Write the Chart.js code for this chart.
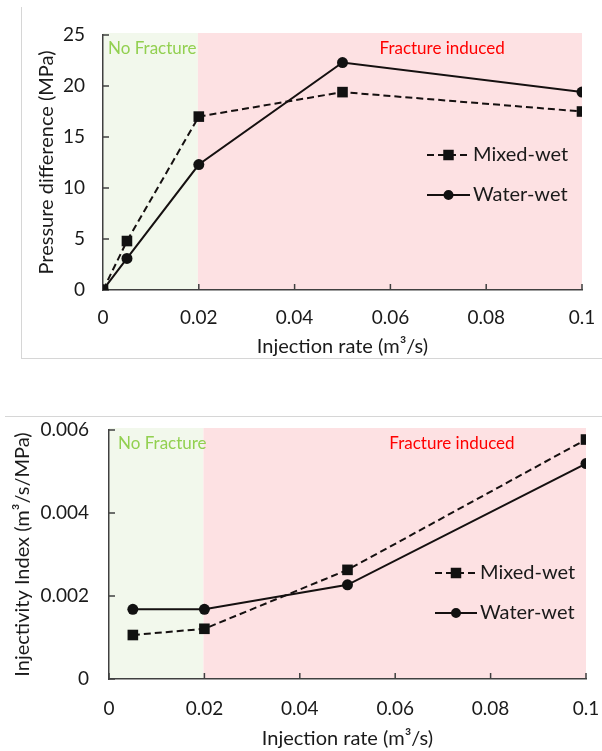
<!DOCTYPE html>
<html><head><meta charset="utf-8">
<script src="https://cdn.jsdelivr.net/npm/chart.js@4.4.1/dist/chart.umd.min.js"></script>
<style>
html,body{margin:0;padding:0;width:602px;height:751px;overflow:hidden;background:#fff;}
.wrap{position:absolute;left:0;}
.rule{position:absolute;background:#d6d6d6;}
</style></head><body>
<div class="rule" style="left:21px;top:7px;width:1px;height:352px"></div>
<div class="rule" style="left:21px;top:358px;width:581px;height:1px"></div>
<div class="rule" style="left:5px;top:416px;width:597px;height:1px"></div>
<div class="wrap" style="top:0;width:602px;height:360px"><canvas id="cTop" width="602" height="360"></canvas></div>
<div class="wrap" style="top:417px;width:602px;height:334px"><canvas id="cBot" width="602" height="334"></canvas></div>
<script>
// ---- data ----
const seriesNames = ['Mixed-wet', 'Water-wet'];
const zoneLabels = ['No Fracture', 'Fracture induced'];
const zoneEdges = [0, 0.0198, 0.1];
const rateTicks = [0, 0.02, 0.04, 0.06, 0.08, 0.1];
const rateTickLabels = ['0', '0.02', '0.04', '0.06', '0.08', '0.1'];

const pressureRates = [0, 0.005, 0.02, 0.05, 0.1];
const pressureMixed = [0, 4.8, 17.0, 19.4, 17.5];
const pressureWater = [0, 3.1, 12.3, 22.3, 19.4];
const pressureTicks = [0, 5, 10, 15, 20, 25];
const pressureTickLabels = ['0', '5', '10', '15', '20', '25'];

const injRates = [0.005, 0.02, 0.05, 0.1];
const injMixed = [0.00106, 0.00121, 0.00263, 0.00577];
const injWater = [0.00168, 0.00168, 0.00227, 0.00519];
const injTicks = [0, 0.002, 0.004, 0.006];
const injTickLabels = ['0', '0.002', '0.004', '0.006'];

const FONT = 'Lato';
const INK = '#1a1a1a';
const LINE = '#151010';

const zonePlugin = {
  id: 'zones',
  beforeDraw(chart, args, opts) {
    const {ctx, chartArea: a, scales: {x}} = chart;
    const cols = ['#f2f8ec', '#fde1e3'];
    ctx.save();
    for (let i = 0; i < zoneEdges.length - 1; i++) {
      const x0 = x.getPixelForValue(zoneEdges[i]);
      const x1 = x.getPixelForValue(zoneEdges[i + 1]);
      ctx.fillStyle = cols[i];
      ctx.fillRect(x0, a.top - 2, x1 - x0, a.bottom - a.top + 2);
    }
    ctx.font = '17px ' + FONT;
    ctx.textBaseline = 'middle';
    ctx.fillStyle = '#92d050';
    ctx.textAlign = 'left';
    ctx.fillText(zoneLabels[0], a.left + opts.nfDx, a.top + opts.dy);
    ctx.fillStyle = '#ff0000';
    ctx.textAlign = 'center';
    ctx.fillText(zoneLabels[1], x.getPixelForValue(opts.fiX), a.top + opts.dy);
    ctx.restore();
  }
};

const innerTicks = {
  id: 'innerTicks',
  beforeDatasetsDraw(chart) {
    const {ctx, chartArea: a, scales: {x, y}} = chart;
    ctx.save();
    ctx.strokeStyle = '#404040';
    ctx.lineWidth = 1.5;
    ctx.beginPath();
    x.ticks.forEach(t => {
      const px = x.getPixelForValue(t.value);
      ctx.moveTo(px, a.bottom); ctx.lineTo(px, a.bottom - 6);
    });
    y.ticks.forEach(t => {
      const py = y.getPixelForValue(t.value);
      ctx.moveTo(a.left, py); ctx.lineTo(a.left + 6, py);
    });
    ctx.stroke();
    ctx.restore();
  }
};

const legendPlugin = {
  id: 'fixedLegend',
  afterDraw(chart, args, opts) {
    const {ctx} = chart;
    ctx.save();
    chart.data.datasets.forEach((ds, i) => {
      const yy = opts.rows[i];
      ctx.strokeStyle = ds.borderColor;
      ctx.lineWidth = 2;
      ctx.setLineDash(ds.borderDash || []);
      ctx.beginPath();
      ctx.moveTo(opts.x0, yy); ctx.lineTo(opts.x1, yy);
      ctx.stroke();
      ctx.setLineDash([]);
      Chart.helpers.drawPoint(ctx, {pointStyle: ds.pointStyle, radius: ds.pointRadius - 1.5, borderWidth: 1},
        (opts.x0 + opts.x1) / 2, yy);
      ctx.fillStyle = ds.pointBackgroundColor;
      ctx.fill();
      ctx.fillStyle = INK;
      ctx.font = '20px ' + FONT;
      ctx.textAlign = 'left';
      ctx.textBaseline = 'middle';
      ctx.fillText(ds.label, opts.x1 + 3, yy);
    });
    ctx.restore();
  }
};

function pts(xs, ys) { return xs.map((v, i) => ({x: v, y: ys[i]})); }

function datasets(xs, m, w) {
  return [
    {label: seriesNames[0], data: pts(xs, m), borderColor: LINE, borderWidth: 2, borderDash: [7, 4],
     pointStyle: 'rect', pointRadius: 7.5, pointBackgroundColor: '#111', pointBorderColor: '#111', pointBorderWidth: 0},
    {label: seriesNames[1], data: pts(xs, w), borderColor: LINE, borderWidth: 2,
     pointStyle: 'circle', pointRadius: 5.5, pointBackgroundColor: '#111', pointBorderColor: '#111', pointBorderWidth: 0}
  ];
}

function makeChart(id, cfg) {
  return new Chart(document.getElementById(id), {
    type: 'line',
    data: {datasets: datasets(cfg.xs, cfg.m, cfg.w)},
    plugins: [zonePlugin, innerTicks, legendPlugin],
    options: {
      responsive: false, animation: false, devicePixelRatio: 1,
      layout: {padding: cfg.padding},
      plugins: {
        legend: {display: false}, tooltip: {enabled: false},
        zones: cfg.zones, fixedLegend: cfg.legend
      },
      scales: {
        x: {
          type: 'linear', min: 0, max: 0.1,
          afterBuildTicks: s => { s.ticks = rateTicks.map(v => ({value: v})); },
          afterFit: s => { s.height = cfg.xH; s.paddingLeft = 0; s.paddingRight = 0; },
          grid: {display: true, drawOnChartArea: false, drawTicks: false},
          border: {display: true, color: '#404040', width: 1.5},
          ticks: {padding: cfg.xPad, color: INK, font: {family: FONT, size: 19}, maxRotation: 0,
                  callback: (v, i) => rateTickLabels[i]},
          title: {display: true, text: 'Injection rate (m³/s)', color: INK, padding: 0,
                  font: {family: FONT, size: 20}}
        },
        y: {
          type: 'linear', min: cfg.yMin, max: cfg.yMax,
          afterBuildTicks: s => { s.ticks = cfg.yTicks.map(v => ({value: v})); },
          afterFit: s => { s.width = cfg.yW; s.paddingTop = 0; s.paddingBottom = 0; },
          grid: {display: true, drawOnChartArea: false, drawTicks: false},
          border: {display: true, color: '#404040', width: 1.5},
          ticks: {padding: cfg.yPad, color: INK, font: {family: FONT, size: 19},
                  callback: (v, i) => cfg.yLabels[i]},
          title: {display: true, text: cfg.yTitle, color: INK, padding: 0,
                  font: {family: FONT, size: 20}}
        }
      }
    }
  });
}

function build() {
  makeChart('cTop', {
    xs: pressureRates, m: pressureMixed, w: pressureWater,
    yMin: 0, yMax: 25, yTicks: pressureTicks, yLabels: pressureTickLabels,
    yTitle: 'Pressure difference (MPa)',
    padding: {left: 35, top: 35, right: 20, bottom: 1},
    yW: 68, xH: 69, xPad: 16, yPad: 18,
    zones: {nfDx: 5, dy: 14, fiX: 0.0708},
    legend: {x0: 427, x1: 470, rows: [155, 195]}
  });
  makeChart('cBot', {
    xs: injRates, m: injMixed, w: injWater,
    yMin: 0, yMax: 0.006, yTicks: injTicks, yLabels: injTickLabels,
    yTitle: 'Injectivity Index (m³/s/MPa)',
    padding: {left: 11, top: 13, right: 16, bottom: 0},
    yW: 98, xH: 72, xPad: 18, yPad: 20,
    zones: {nfDx: 9, dy: 14, fiX: 0.0719},
    legend: {x0: 435, x1: 477, rows: [156, 196]}
  });
}
if (document.fonts && document.fonts.load) {
  Promise.all([document.fonts.load('20px Lato'), document.fonts.load('17px Lato')]).then(build, build);
} else { build(); }
</script>
</body></html>
